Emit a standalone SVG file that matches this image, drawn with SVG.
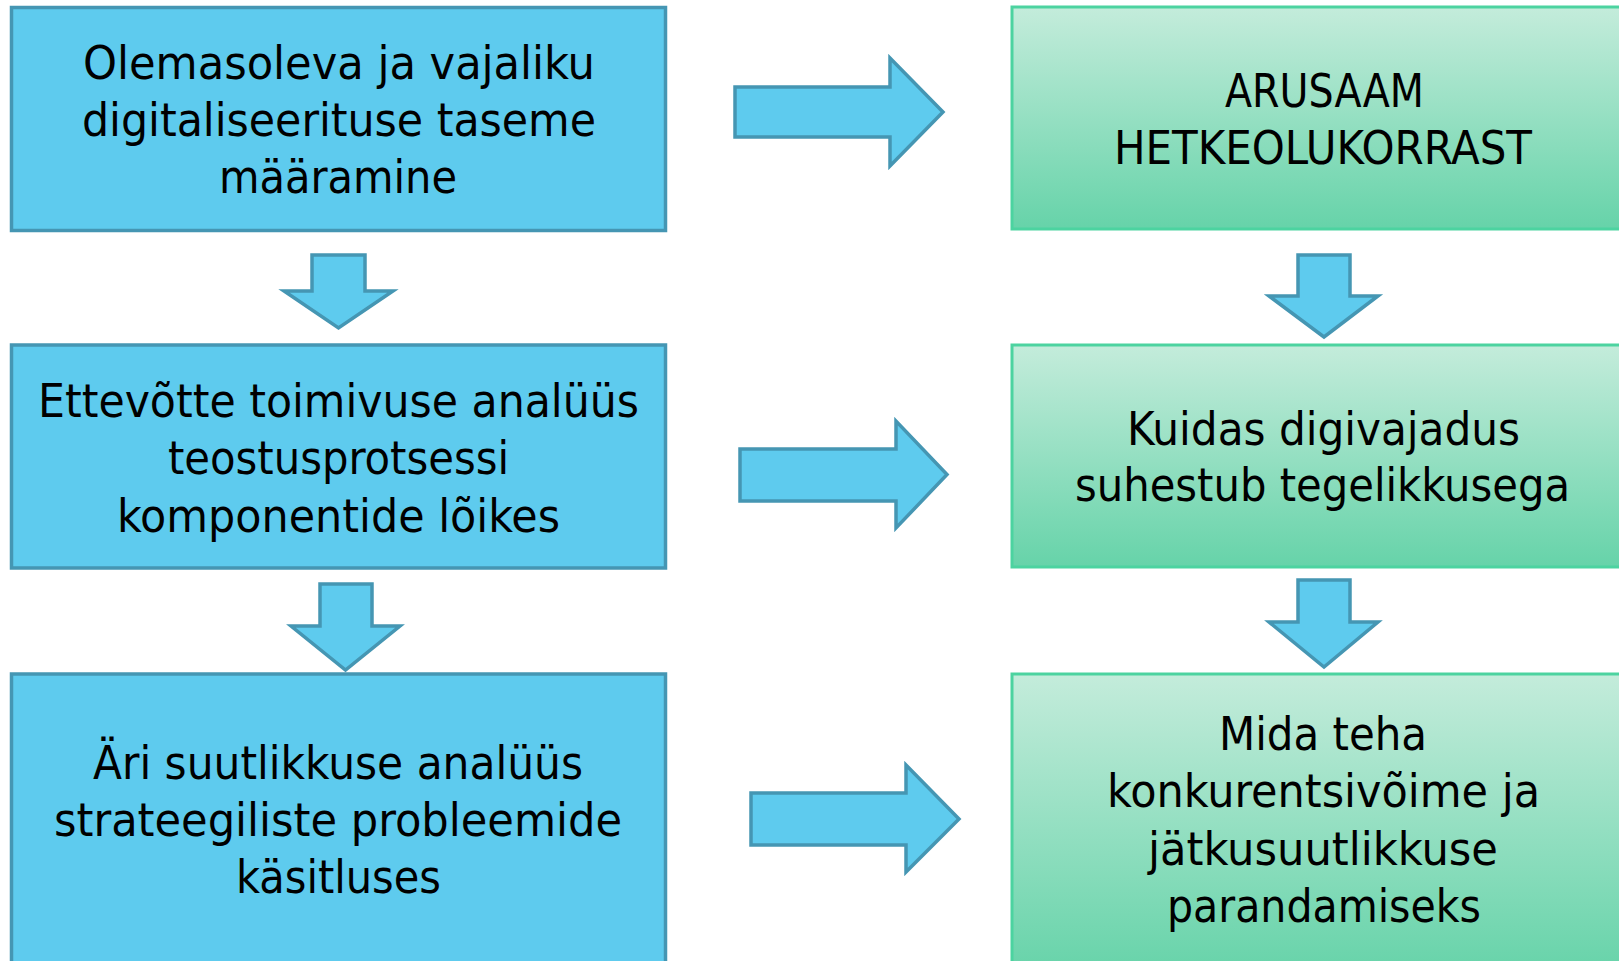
<svg xmlns="http://www.w3.org/2000/svg" width="1619" height="961" viewBox="0 0 1619 961">
  <style>
    .blue { fill: #5ECBEE; stroke: #4596B3; stroke-width: 3.5; }
    .green { fill: url(#greenFill); stroke: #4CD3A0; stroke-width: 3; }
    .arrow { fill: #5ECBEE; stroke: #4596B3; stroke-width: 3.5; stroke-linejoin: miter; }
    .label { font-family: "DejaVu Sans Condensed", "DejaVu Sans", sans-serif; font-stretch: condensed; font-size: 46px; fill: #000; text-anchor: middle; }
  </style>
  <defs>
    <linearGradient id="greenFill" x1="0" y1="0" x2="0" y2="1">
      <stop offset="0" stop-color="#C4ECDB"/>
      <stop offset="1" stop-color="#66D3A9"/>
    </linearGradient>
  </defs>
  <rect width="1619" height="961" fill="#FFFFFF"/>

  <!-- connectors: block arrows -->
  <g id="connectors">
    <polygon class="arrow" points="312,255 365,255 365,291 393,291 338.5,328 284,291 312,291"/>
    <polygon class="arrow" points="320,584 372,584 372,626 400,626 345.5,670 291,626 320,626"/>
    <polygon class="arrow" points="1298,255 1350,255 1350,296 1378,296 1324,337 1269,296 1298,296"/>
    <polygon class="arrow" points="1298,580 1350,580 1350,622 1378,622 1324,667 1269,622 1298,622"/>
    <polygon class="arrow" points="735,87 890,87 890,58 943,112 890,166 890,137 735,137"/>
    <polygon class="arrow" points="740,449 896,449 896,421 947,474.5 896,528 896,501 740,501"/>
    <polygon class="arrow" points="751,793 906,793 906,765 959,819 906,872 906,845 751,845"/>
  </g>

  <!-- left column -->
  <g id="node-level">
    <rect class="blue" x="11.5" y="7.5" width="654" height="223"/>
    <text class="label" x="339" y="79" textLength="512" lengthAdjust="spacingAndGlyphs">Olemasoleva ja vajaliku</text>
    <text class="label" x="339" y="136" textLength="514" lengthAdjust="spacingAndGlyphs">digitaliseerituse taseme</text>
    <text class="label" x="338" y="193" textLength="238" lengthAdjust="spacingAndGlyphs">määramine</text>
  </g>
  <g id="node-performance">
    <rect class="blue" x="11.5" y="345" width="654" height="223"/>
    <text class="label" x="338.5" y="416.5" textLength="601" lengthAdjust="spacingAndGlyphs">Ettevõtte toimivuse analüüs</text>
    <text class="label" x="338.5" y="474" textLength="341" lengthAdjust="spacingAndGlyphs">teostusprotsessi</text>
    <text class="label" x="338.5" y="531.5" textLength="443" lengthAdjust="spacingAndGlyphs">komponentide lõikes</text>
  </g>
  <g id="node-capability">
    <rect class="blue" x="11.5" y="674" width="654" height="300"/>
    <text class="label" x="338" y="779" textLength="490" lengthAdjust="spacingAndGlyphs">Äri suutlikkuse analüüs</text>
    <text class="label" x="338" y="836" textLength="568" lengthAdjust="spacingAndGlyphs">strateegiliste probleemide</text>
    <text class="label" x="338.5" y="893" textLength="205" lengthAdjust="spacingAndGlyphs">käsitluses</text>
  </g>

  <!-- right column -->
  <g id="node-understanding">
    <rect class="green" x="1012" y="7" width="620" height="222"/>
    <text class="label" x="1324.5" y="107" textLength="199" lengthAdjust="spacingAndGlyphs">ARUSAAM</text>
    <text class="label" x="1323" y="164" textLength="418" lengthAdjust="spacingAndGlyphs">HETKEOLUKORRAST</text>
  </g>
  <g id="node-need">
    <rect class="green" x="1012" y="345" width="620" height="222"/>
    <text class="label" x="1323.5" y="445" textLength="393" lengthAdjust="spacingAndGlyphs">Kuidas digivajadus</text>
    <text class="label" x="1322.5" y="501" textLength="495" lengthAdjust="spacingAndGlyphs">suhestub tegelikkusega</text>
  </g>
  <g id="node-action">
    <rect class="green" x="1012" y="674" width="620" height="300"/>
    <text class="label" x="1323" y="750" textLength="208" lengthAdjust="spacingAndGlyphs">Mida teha</text>
    <text class="label" x="1323.5" y="807" textLength="433" lengthAdjust="spacingAndGlyphs">konkurentsivõime ja</text>
    <text class="label" x="1323" y="865" textLength="350" lengthAdjust="spacingAndGlyphs">jätkusuutlikkuse</text>
    <text class="label" x="1324" y="922" textLength="314" lengthAdjust="spacingAndGlyphs">parandamiseks</text>
  </g>
</svg>
